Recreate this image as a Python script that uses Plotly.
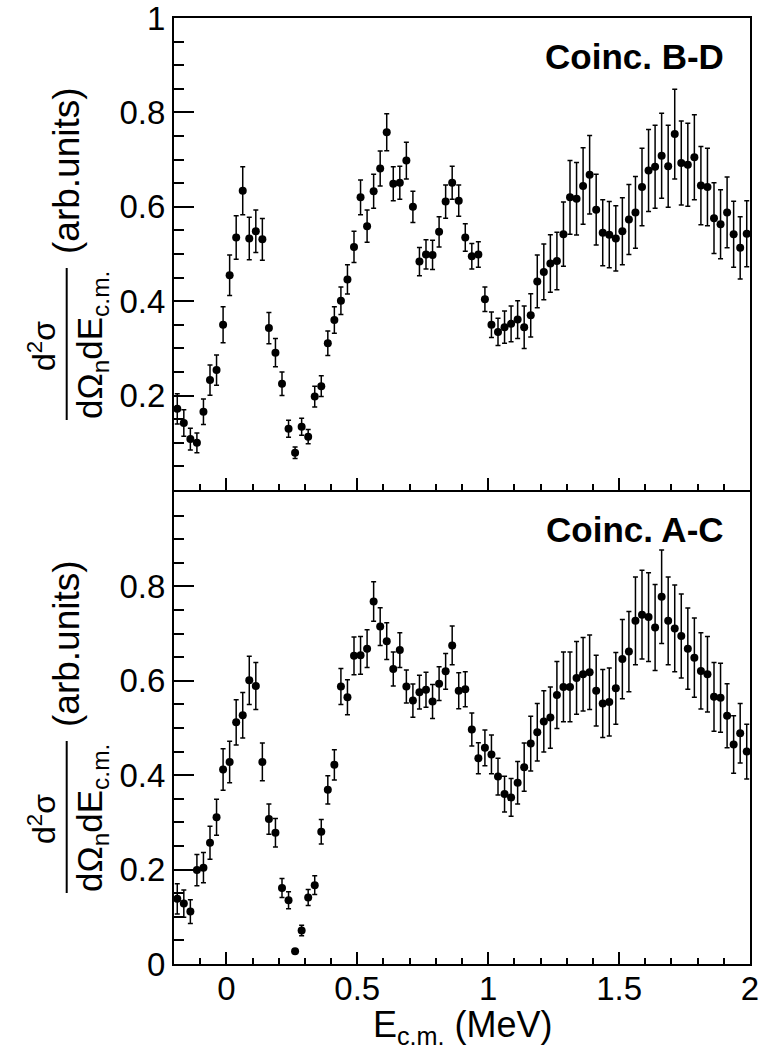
import plotly.graph_objects as go

# ---------------- data ----------------
energy = [-0.1875, -0.1625, -0.1375, -0.1125, -0.0875, -0.0625, -0.0375, -0.0125,
          0.0125, 0.0375, 0.0625, 0.0875, 0.1125, 0.1375, 0.1625, 0.1875,
          0.2125, 0.2375, 0.2625, 0.2875, 0.3125, 0.3375, 0.3625, 0.3875,
          0.4125, 0.4375, 0.4625, 0.4875, 0.5125, 0.5375, 0.5625, 0.5875,
          0.6125, 0.6375, 0.6625, 0.6875, 0.7125, 0.7375, 0.7625, 0.7875,
          0.8125, 0.8375, 0.8625, 0.8875, 0.9125, 0.9375, 0.9625, 0.9875,
          1.0125, 1.0375, 1.0625, 1.0875, 1.1125, 1.1375, 1.1625, 1.1875,
          1.2125, 1.2375, 1.2625, 1.2875, 1.3125, 1.3375, 1.3625, 1.3875,
          1.4125, 1.4375, 1.4625, 1.4875, 1.5125, 1.5375, 1.5625, 1.5875,
          1.6125, 1.6375, 1.6625, 1.6875, 1.7125, 1.7375, 1.7625, 1.7875,
          1.8125, 1.8375, 1.8625, 1.8875, 1.9125, 1.9375, 1.9625, 1.9875]

bd_values = [0.172, 0.142, 0.108, 0.100, 0.166, 0.233, 0.254, 0.350, 0.455, 0.535,
             0.634, 0.533, 0.548, 0.531, 0.343, 0.291, 0.225, 0.130, 0.079, 0.134,
             0.113, 0.198, 0.220, 0.311, 0.360, 0.401, 0.446, 0.515, 0.620, 0.559,
             0.633, 0.681, 0.758, 0.649, 0.651, 0.698, 0.600, 0.484, 0.499, 0.498,
             0.547, 0.611, 0.651, 0.613, 0.535, 0.495, 0.499, 0.404, 0.350, 0.335,
             0.345, 0.352, 0.361, 0.345, 0.370, 0.442, 0.462, 0.480, 0.485, 0.542,
             0.620, 0.617, 0.644, 0.668, 0.594, 0.545, 0.541, 0.533, 0.548, 0.573,
             0.588, 0.642, 0.677, 0.685, 0.708, 0.686, 0.754, 0.693, 0.689, 0.705,
             0.645, 0.642, 0.576, 0.563, 0.588, 0.542, 0.513, 0.543]

bd_errors = [0.032, 0.028, 0.023, 0.021, 0.027, 0.032, 0.032, 0.038, 0.043, 0.046,
             0.051, 0.045, 0.045, 0.044, 0.033, 0.030, 0.025, 0.018, 0.012, 0.018,
             0.015, 0.022, 0.022, 0.026, 0.028, 0.029, 0.031, 0.033, 0.037, 0.034,
             0.036, 0.037, 0.039, 0.036, 0.035, 0.039, 0.033, 0.030, 0.031, 0.031,
             0.032, 0.035, 0.035, 0.033, 0.029, 0.027, 0.027, 0.026, 0.027, 0.029,
             0.034, 0.038, 0.040, 0.045, 0.046, 0.056, 0.059, 0.061, 0.061, 0.068,
             0.078, 0.077, 0.081, 0.083, 0.075, 0.070, 0.070, 0.069, 0.071, 0.074,
             0.076, 0.082, 0.087, 0.088, 0.090, 0.087, 0.095, 0.089, 0.088, 0.090,
             0.083, 0.082, 0.075, 0.073, 0.075, 0.070, 0.066, 0.070]

ac_values = [0.138, 0.128, 0.111, 0.199, 0.204, 0.257, 0.311, 0.412, 0.428, 0.512,
             0.527, 0.601, 0.589, 0.428, 0.307, 0.278, 0.161, 0.135, 0.027, 0.071,
             0.141, 0.167, 0.280, 0.369, 0.422, 0.588, 0.565, 0.653, 0.654, 0.668,
             0.768, 0.715, 0.684, 0.625, 0.665, 0.588, 0.558, 0.576, 0.581, 0.556,
             0.594, 0.620, 0.675, 0.579, 0.582, 0.497, 0.436, 0.458, 0.444, 0.397,
             0.360, 0.353, 0.384, 0.417, 0.467, 0.491, 0.514, 0.522, 0.570, 0.587,
             0.587, 0.606, 0.614, 0.618, 0.579, 0.552, 0.555, 0.584, 0.646, 0.662,
             0.727, 0.740, 0.735, 0.713, 0.778, 0.727, 0.711, 0.695, 0.668, 0.649,
             0.621, 0.614, 0.566, 0.564, 0.526, 0.465, 0.489, 0.450]

ac_errors = [0.032, 0.029, 0.025, 0.033, 0.032, 0.035, 0.038, 0.044, 0.044, 0.048,
             0.048, 0.051, 0.050, 0.040, 0.032, 0.030, 0.020, 0.018, 0.003, 0.011,
             0.017, 0.020, 0.026, 0.030, 0.032, 0.038, 0.037, 0.040, 0.040, 0.040,
             0.042, 0.040, 0.039, 0.036, 0.037, 0.035, 0.035, 0.036, 0.037, 0.036,
             0.036, 0.038, 0.041, 0.038, 0.037, 0.035, 0.033, 0.038, 0.041, 0.039,
             0.038, 0.040, 0.045, 0.051, 0.058, 0.061, 0.065, 0.065, 0.071, 0.074,
             0.074, 0.077, 0.078, 0.079, 0.075, 0.072, 0.072, 0.076, 0.084, 0.085,
             0.093, 0.094, 0.094, 0.091, 0.099, 0.093, 0.092, 0.089, 0.086, 0.084,
             0.081, 0.080, 0.073, 0.073, 0.068, 0.061, 0.063, 0.058]

x_tickvals = [0, 0.5, 1, 1.5, 2]
x_ticktext = ["0", "0.5", "1", "1.5", "2"]
top_y_tickvals = [0.2, 0.4, 0.6, 0.8, 1.0]
top_y_ticktext = ["0.2", "0.4", "0.6", "0.8", "1"]
bot_y_tickvals = [0, 0.2, 0.4, 0.6, 0.8]
bot_y_ticktext = ["0", "0.2", "0.4", "0.6", "0.8"]

panel_labels = ["Coinc. B-D", "Coinc. A-C"]
x_title = "E<sub>c.m.</sub> (MeV)"
y_num = "d<sup>2</sup>σ"
y_den = "dΩ<sub>n</sub>dE<sub>c.m.</sub>"
y_unit = "(arb.units)"

# ---------------- layout helpers ----------------
W_PX, H_PX = 775, 1049
L, R, T, B = 174, 750, 18, 964
FONT = "Liberation Sans, Arial, Helvetica, sans-serif"
LW = 2.0
GAP = (LW / 2) / (B - T)


def px(x):
    return (x - L) / (R - L)


def py(y):
    return (B - y) / (B - T)


fig = go.Figure()

for xs, ys, es, xa, ya in [(energy, bd_values, bd_errors, "x2", "y2"),
                           (energy, ac_values, ac_errors, "x", "y")]:
    fig.add_trace(go.Scatter(
        x=xs, y=ys, mode="markers", xaxis=xa, yaxis=ya,
        marker=dict(color="black", size=8, line=dict(width=0)),
        error_y=dict(type="data", array=es, visible=True, color="black",
                     thickness=1.5, width=2.5),
        showlegend=False,
    ))

axis_common = dict(showline=True, linecolor="black", linewidth=LW, mirror=True,
                   showgrid=False, zeroline=False, ticks="inside", automargin=False,
                   tickcolor="black", tickwidth=1.5, ticklabeloverflow="allow",
                   tickfont=dict(family=FONT, size=33, color="black"))

fig.update_layout(
    width=W_PX, height=H_PX,
    margin=dict(l=L, r=W_PX - R, t=T, b=H_PX - B, pad=0, autoexpand=False),
    paper_bgcolor="white", plot_bgcolor="white",
    font=dict(family=FONT, color="black"),
    xaxis=dict(domain=[0, 1], range=[-0.2, 2], anchor="y",
               tickvals=x_tickvals, ticktext=x_ticktext, ticklen=12,
               ticklabelstandoff=-6,
               minor=dict(dtick=0.1, tick0=0, ticklen=6, ticks="inside",
                          tickcolor="black", tickwidth=1.5),
               **axis_common),
    xaxis2=dict(domain=[0, 1], range=[-0.2, 2], anchor="y2",
                tickvals=x_tickvals, ticktext=x_ticktext, ticklen=12,
                showticklabels=False,
                minor=dict(dtick=0.1, tick0=0, ticklen=6, ticks="inside",
                           tickcolor="black", tickwidth=1.5),
                **axis_common),
    yaxis=dict(domain=[0, 0.5 - GAP], range=[0, 1], anchor="x",
               tickvals=bot_y_tickvals, ticktext=bot_y_ticktext, ticklen=20,
               ticklabelstandoff=0,
               minor=dict(dtick=0.05, tick0=0, ticklen=10, ticks="inside",
                          tickcolor="black", tickwidth=1.5),
               **axis_common),
    yaxis2=dict(domain=[0.5 + GAP, 1], range=[0, 1], anchor="x2",
                tickvals=top_y_tickvals, ticktext=top_y_ticktext, ticklen=20,
                ticklabelstandoff=0,
                minor=dict(dtick=0.05, tick0=0, ticklen=10, ticks="inside",
                           tickcolor="black", tickwidth=1.5),
                **axis_common),
)

annotations = []
shapes = []
for i, label in enumerate(panel_labels):
    off = i * 473
    annotations.append(dict(
        text="<b>%s</b>" % label, xref="paper", yref="paper",
        x=px(726), y=py(56 + off), xanchor="right", yanchor="middle",
        showarrow=False, font=dict(family=FONT, size=35, color="black")))
    annotations.append(dict(
        text=y_num, xref="paper", yref="paper", textangle=-90,
        x=px(42), y=py(346 + off), xanchor="center", yanchor="middle",
        showarrow=False, font=dict(family=FONT, size=32, color="black")))
    annotations.append(dict(
        text=y_den, xref="paper", yref="paper", textangle=-90,
        x=px(92), y=py(345 + off), xanchor="center", yanchor="middle",
        showarrow=False, font=dict(family=FONT, size=35, color="black")))
    annotations.append(dict(
        text=y_unit, xref="paper", yref="paper", textangle=-90,
        x=px(66), y=py(171 + off), xanchor="center", yanchor="middle",
        showarrow=False, font=dict(family=FONT, size=37, color="black")))
    shapes.append(dict(type="line", xref="paper", yref="paper",
                       x0=px(66.7), x1=px(66.7), y0=py(268 + off), y1=py(420 + off),
                       line=dict(color="black", width=2)))

annotations.append(dict(
    text=x_title, xref="paper", yref="paper",
    x=px(463), y=py(1027), xanchor="center", yanchor="middle",
    showarrow=False, font=dict(family=FONT, size=36, color="black")))

fig.update_layout(annotations=annotations, shapes=shapes)

fig.write_html("out.html")
